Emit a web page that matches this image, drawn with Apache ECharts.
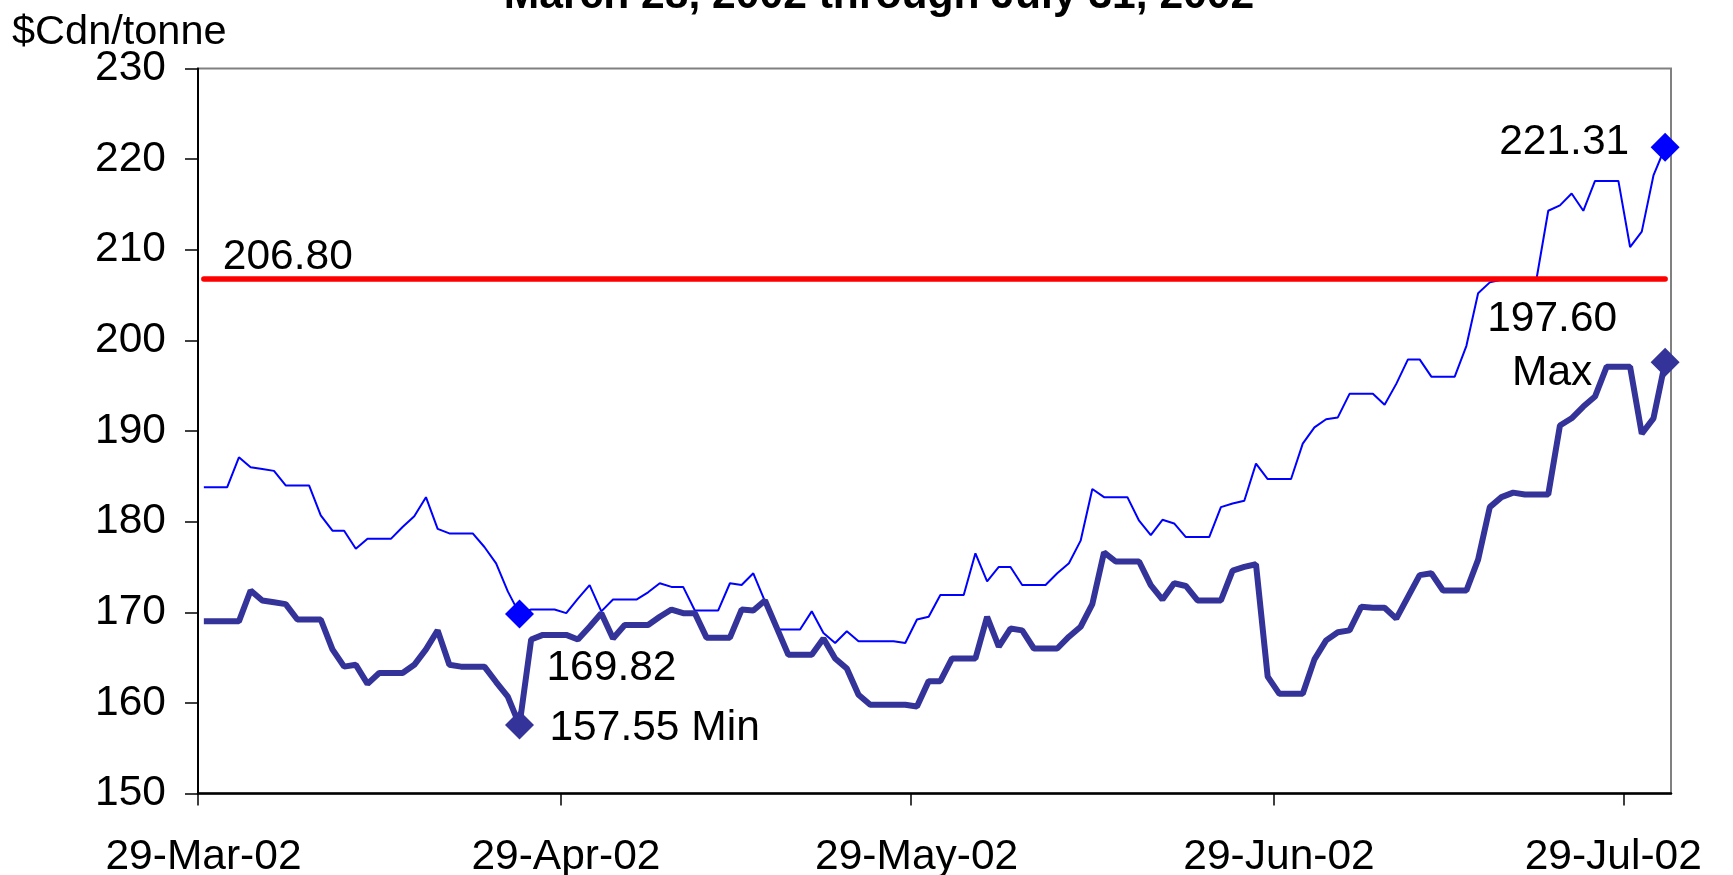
<!DOCTYPE html>
<html>
<head>
<meta charset="utf-8">
<title>$Cdn/tonne, March 28, 2002 through July 31, 2002</title>
<script src="https://cdn.jsdelivr.net/npm/echarts@6/dist/echarts.min.js"></script>
<style>
html, body { margin: 0; padding: 0; background: #fff; }
#chart { width: 1733px; height: 875px; }
</style>
</head>
<body>
<div id="chart"></div>
<script>
// daily values, first day 29-Mar-02 (weekend days carry the previous value)
const upperPrices = [
	183.8, 183.8, 183.8, 187.1, 186.0, 185.8, 185.6, 184.0, 184.0, 184.0,
	180.7, 179.0, 179.0, 177.0, 178.1, 178.1, 178.1, 179.4, 180.6, 182.7,
	179.2, 178.7, 178.7, 178.7, 177.2, 175.4, 172.3, 169.82, 170.3, 170.3,
	170.3, 169.9, 171.5, 173.0, 170.1, 171.4, 171.4, 171.4, 172.2, 173.2,
	172.8, 172.8, 170.2, 170.2, 170.2, 173.2, 173.0, 174.3, 171.2, 168.1,
	168.1, 168.1, 170.1, 167.7, 166.6, 167.9, 166.8, 166.8, 166.8, 166.8,
	166.6, 169.2, 169.5, 171.9, 171.9, 171.9, 176.5, 173.4, 175.0, 175.0,
	173.0, 173.0, 173.0, 174.3, 175.4, 177.9, 183.6, 182.7, 182.7, 182.7,
	180.1, 178.5, 180.2, 179.8, 178.3, 178.3, 178.3, 181.6, 182.0, 182.3,
	186.4, 184.7, 184.7, 184.7, 188.6, 190.4, 191.3, 191.5, 194.1, 194.1,
	194.1, 192.9, 195.2, 197.9, 197.9, 196.0, 196.0, 196.0, 199.4, 205.2,
	206.4, 206.7, 206.8, 206.8, 206.8, 214.3, 214.9, 216.2, 214.3, 217.6,
	217.6, 217.6, 210.3, 212.0, 218.2, 221.31
]
const lowerPrices = [
	169.0, 169.0, 169.0, 169.0, 172.4, 171.3, 171.1, 170.9, 169.2, 169.2,
	169.2, 165.9, 164.0, 164.2, 162.1, 163.3, 163.3, 163.3, 164.2, 165.9,
	168.0, 164.2, 164.0, 164.0, 164.0, 162.3, 160.7, 157.55, 167.0, 167.5,
	167.5, 167.5, 167.0, 168.4, 169.9, 167.1, 168.6, 168.6, 168.6, 169.5,
	170.3, 169.9, 169.9, 167.2, 167.2, 167.2, 170.3, 170.2, 171.3, 168.3,
	165.3, 165.3, 165.3, 167.1, 164.9, 163.8, 160.9, 159.8, 159.8, 159.8,
	159.8, 159.6, 162.4, 162.4, 164.9, 164.9, 164.9, 169.5, 166.2, 168.2,
	168.0, 166.0, 166.0, 166.0, 167.3, 168.4, 170.9, 176.6, 175.6, 175.6,
	175.6, 173.0, 171.4, 173.2, 172.9, 171.3, 171.3, 171.3, 174.6, 175.0,
	175.3, 162.9, 161.0, 161.0, 161.0, 164.8, 166.9, 167.8, 168.0, 170.6,
	170.5, 170.5, 169.3, 171.7, 174.1, 174.3, 172.4, 172.4, 172.4, 175.8,
	181.6, 182.7, 183.2, 183.0, 183.0, 183.0, 190.6, 191.4, 192.7, 193.8,
	197.1, 197.1, 197.1, 189.7, 191.4, 197.60
]
const referencePrice = 206.80
const minIndex = 27
const lastIndex = upperPrices.length - 1
const firstDay = [2002, 2, 29]
const lastAxisDay = [2002, 7, 2]
const tickDates = [[2002, 2, 29], [2002, 3, 29], [2002, 4, 29], [2002, 5, 29], [2002, 6, 29]]
const monthNames = ['Jan', 'Feb', 'Mar', 'Apr', 'May', 'Jun', 'Jul', 'Aug', 'Sep', 'Oct', 'Nov', 'Dec']

// x is counted in days from the first day; a daily point sits in the middle of its day
const start = new Date(firstDay[0], firstDay[1], firstDay[2])
function dayOffset(d) {
	return Math.round((d - start) / 3600000) / 24
}
const days = upperPrices.map((v, i) => dayOffset(new Date(firstDay[0], firstDay[1], firstDay[2] + i, 12)))
const upperData = upperPrices.map((v, i) => [days[i], v])
const lowerData = lowerPrices.map((v, i) => [days[i], v])
const tickValues = tickDates.map(d => dayOffset(new Date(d[0], d[1], d[2])))
const axisEnd = dayOffset(new Date(lastAxisDay[0], lastAxisDay[1], lastAxisDay[2]))

const font = 'Liberation Sans'
const labelSize = 42.5

function dateLabel(value) {
	const d = new Date(firstDay[0], firstDay[1], firstDay[2] + Math.round(value))
	const text = d.getDate() + '-' + monthNames[d.getMonth()] + '-' + String(d.getFullYear()).slice(2)
	// the last label is pulled in so it stays inside the picture
	return value === tickValues[tickValues.length - 1] ? '{e|' + text + '}' : '{n|' + text + '}'
}

const chart = echarts.init(document.getElementById('chart'), null, { renderer: 'canvas' })
chart.setOption({
	animation: false,
	backgroundColor: '#fff',
	title: [
		{
			text: 'March 28, 2002 through July 31, 2002',
			left: 874,
			textAlign: 'center',
			top: -30,
			textStyle: { fontFamily: font, fontSize: 42.6, fontWeight: 'bold', color: '#000' }
		},
		{
			text: '$Cdn/tonne',
			left: 7,
			top: 7,
			textStyle: { fontFamily: font, fontSize: 41.5, fontWeight: 'normal', color: '#000' }
		}
	],
	grid: {
		left: 198,
		right: 62,
		top: 68.5,
		bottom: 81.5,
		show: true,
		borderColor: '#808080',
		borderWidth: 2,
		outerBoundsMode: 'none'
	},
	xAxis: {
		type: 'value',
		min: 0,
		max: axisEnd,
		splitLine: { show: false },
		axisLine: { lineStyle: { color: '#000', width: 2.5 } },
		axisTick: { show: true, length: 12, customValues: tickValues, lineStyle: { color: '#000', width: 1.5 } },
		axisLabel: {
			customValues: tickValues,
			formatter: dateLabel,
			margin: 42,
			color: '#000',
			fontFamily: font,
			fontSize: labelSize,
			rich: {
				n: { fontFamily: font, fontSize: labelSize, color: '#000', padding: [0, 0, 0, 11] },
				e: { fontFamily: font, fontSize: labelSize, color: '#000', padding: [0, 22, 0, 0] }
			}
		}
	},
	yAxis: {
		type: 'value',
		min: 150,
		max: 230,
		interval: 10,
		splitLine: { show: false },
		axisLine: { show: true, lineStyle: { color: '#000', width: 2 } },
		axisTick: { show: true, length: 13, lineStyle: { color: '#000', width: 1.5 } },
		axisLabel: { margin: 32, color: '#000', fontFamily: font, fontSize: labelSize }
	},
	series: [
		{
			name: 'Upper',
			type: 'line',
			data: upperData,
			symbol: 'none',
			lineStyle: { color: '#0000ff', width: 2 },
			markPoint: {
				symbol: 'diamond',
				symbolSize: 29,
				itemStyle: { color: '#0000ff' },
				label: {
					show: true,
					position: 'inside',
					color: '#000',
					fontFamily: font,
					fontSize: labelSize,
					formatter: p => p.value.toFixed(2)
				},
				data: [
					{ coord: upperData[minIndex], value: upperPrices[minIndex], label: { align: 'left', offset: [27, 54] } },
					{ coord: upperData[lastIndex], value: upperPrices[lastIndex], label: { align: 'right', offset: [-36, -5] } }
				]
			}
		},
		{
			name: 'Lower',
			type: 'line',
			data: lowerData,
			symbol: 'none',
			lineStyle: { color: '#333399', width: 6 },
			markPoint: {
				symbol: 'diamond',
				symbolSize: 29,
				itemStyle: { color: '#333399' },
				label: {
					show: true,
					position: 'inside',
					color: '#000',
					fontFamily: font,
					fontSize: labelSize
				},
				data: [
					{
						coord: lowerData[minIndex], value: lowerPrices[minIndex],
						label: { align: 'left', offset: [30, 3], formatter: p => p.value.toFixed(2) + ' Min' }
					},
					{
						coord: lowerData[lastIndex], value: lowerPrices[lastIndex],
						label: { align: 'center', lineHeight: 54, offset: [-113, -16], formatter: p => p.value.toFixed(2) + '\nMax' }
					}
				]
			},
			markLine: {
				silent: true,
				symbol: 'none',
				lineStyle: { color: '#ff0000', width: 5.5, type: 'solid', cap: 'round' },
				label: {
					show: true,
					position: 'insideStartTop',
					distance: [19, 0],
					color: '#000',
					fontFamily: font,
					fontSize: labelSize,
					formatter: () => referencePrice.toFixed(2)
				},
				data: [[
					{ coord: [days[0], referencePrice] },
					{ coord: [days[lastIndex], referencePrice] }
				]]
			}
		}
	]
})
</script>
</body>
</html>
